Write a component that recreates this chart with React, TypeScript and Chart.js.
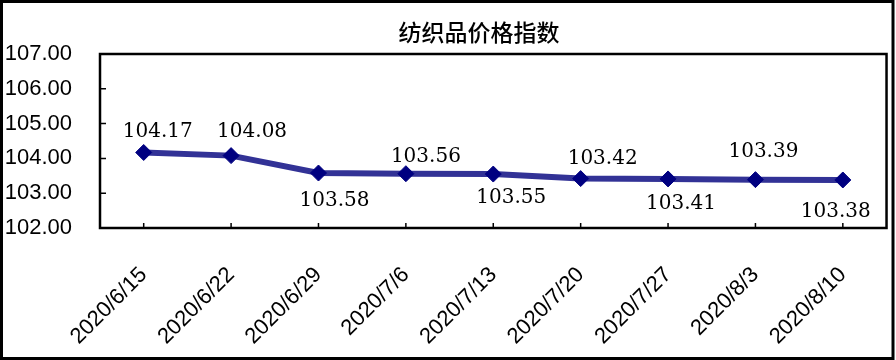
import React, { useEffect, useRef } from "react";
import { Chart, registerables } from "chart.js";

Chart.register(...registerables);

const chartTitle = "纺织品价格指数";
const categories = [
  "2020/6/15",
  "2020/6/22",
  "2020/6/29",
  "2020/7/6",
  "2020/7/13",
  "2020/7/20",
  "2020/7/27",
  "2020/8/3",
  "2020/8/10",
];
const priceIndex = [104.17, 104.08, 103.58, 103.56, 103.55, 103.42, 103.41, 103.39, 103.38];
const yTicks = [102, 103, 104, 105, 106, 107];

// placement of each value label relative to its point (layout only)
const labelOffsets: [number, number][] = [
  [14, -21],
  [21, -24],
  [16, 28],
  [20, -17],
  [18, 24],
  [22, -20],
  [13, 25],
  [8, -28],
  [-7, 32],
];

const decorPlugin = {
  id: "decor",
  afterDatasetsDraw(chart: any) {
    const { ctx } = chart;
    const meta = chart.getDatasetMeta(0);
    ctx.save();
    ctx.fillStyle = "#000";
    ctx.font = "20px 'DejaVu Serif'";
    ctx.textAlign = "center";
    ctx.textBaseline = "middle";
    meta.data.forEach((pt: any, i: number) => {
      const [dx, dy] = labelOffsets[i];
      ctx.fillText(priceIndex[i].toFixed(2), pt.x + dx, pt.y + dy);
    });
    ctx.restore();
  },
  afterDraw(chart: any) {
    const { ctx, chartArea: a, scales } = chart;
    const xs = scales.x;
    const ys = scales.y;
    ctx.save();
    ctx.strokeStyle = "#000";
    ctx.lineWidth = 1.5;
    ctx.beginPath();
    yTicks.forEach((v) => {
      const py = ys.getPixelForValue(v);
      ctx.moveTo(a.left, py);
      ctx.lineTo(a.left + 6, py);
    });
    categories.forEach((_c, i) => {
      const px = xs.getPixelForValue(i);
      ctx.moveTo(px, a.bottom);
      ctx.lineTo(px, a.bottom - 5);
    });
    ctx.stroke();
    ctx.lineWidth = 2.5;
    ctx.strokeRect(a.left, a.top, a.right - a.left, a.bottom - a.top);
    ctx.lineWidth = 3;
    ctx.strokeRect(1.5, 1.5, 891.5, 357);
    ctx.fillStyle = "#000";
    ctx.font = "500 23px 'Noto Sans CJK SC'";
    ctx.textAlign = "center";
    ctx.textBaseline = "middle";
    ctx.fillText(chartTitle, 479, 32);
    ctx.restore();
  },
};

export default function App() {
  const ref = useRef<HTMLCanvasElement>(null);
  useEffect(() => {
    if (!ref.current) return;
    const chart = new Chart(ref.current, {
      type: "line",
      data: {
        labels: categories,
        datasets: [
          {
            data: priceIndex,
            borderColor: "#323296",
            borderWidth: 6,
            pointStyle: "rectRot",
            pointRadius: 8,
            pointBackgroundColor: "#000080",
            pointBorderColor: "#000080",
            pointBorderWidth: 1,
            tension: 0,
          },
        ],
      },
      options: {
        responsive: false,
        animation: false,
        devicePixelRatio: 1,
        layout: { padding: { top: 54, right: 3, left: 0, bottom: 0 } },
        plugins: {
          legend: { display: false },
          title: { display: false },
          tooltip: { enabled: false },
        },
        scales: {
          x: {
            offset: true,
            grid: { display: false, drawTicks: false },
            border: { display: false },
            ticks: {
              minRotation: 45,
              maxRotation: 45,
              autoSkip: false,
              padding: 34,
              color: "#000",
              font: { family: "'Liberation Sans', Arial", size: 22 },
            },
            afterFit: (s: any) => {
              s.height = 132;
            },
          },
          y: {
            min: 102,
            max: 107,
            grid: { display: false, drawTicks: false },
            border: { display: false },
            afterBuildTicks: (s: any) => {
              s.ticks = yTicks.map((v) => ({ value: v }));
            },
            ticks: {
              padding: 28,
              color: "#000",
              font: { family: "'Liberation Sans', Arial", size: 22 },
              callback: (v: any) => Number(v).toFixed(2),
            },
            afterFit: (s: any) => {
              s.width = 100;
            },
          },
        },
      },
      plugins: [decorPlugin],
    });
    return () => chart.destroy();
  }, []);
  return (
    <div style={{ position: "fixed", left: 0, top: 0, width: 896, height: 360, background: "#fff" }}>
      <canvas ref={ref} width={896} height={360} />
    </div>
  );
}
